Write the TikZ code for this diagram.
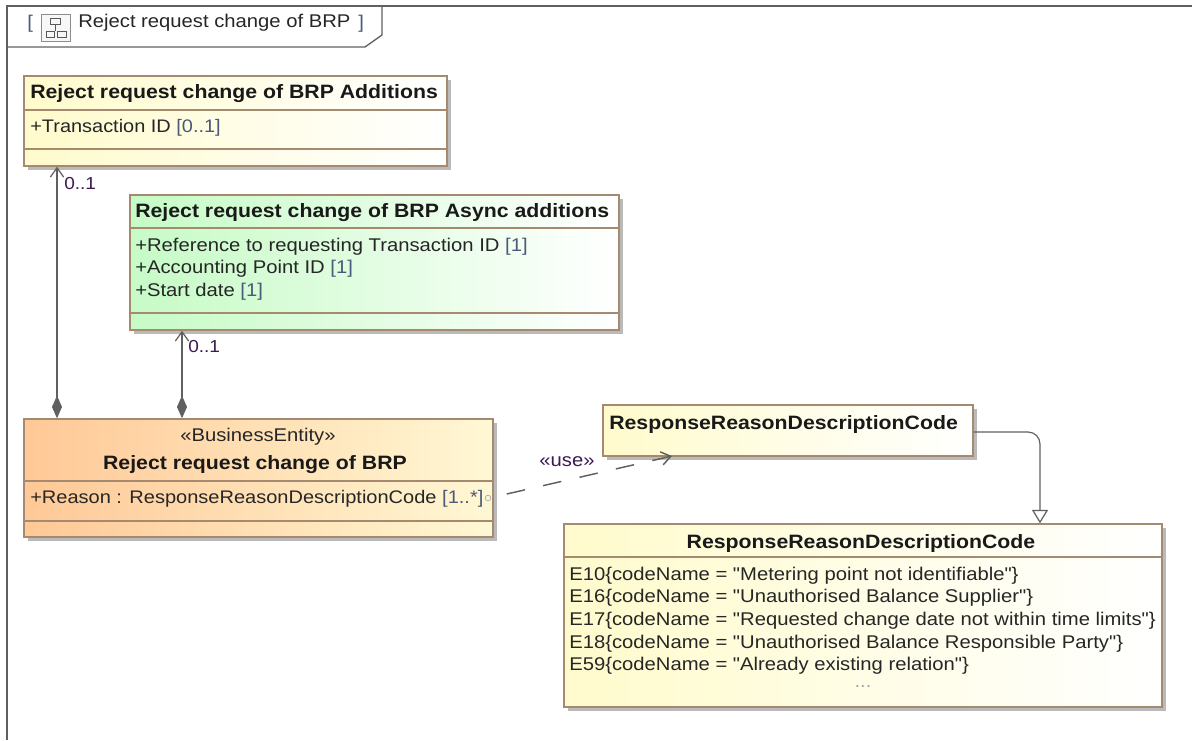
\documentclass[tikz,border=0pt]{standalone}
\usepackage{fontspec}
\setmainfont[FakeStretch=1.1,Ligatures=TeXOff]{Liberation Sans}
\usetikzlibrary{arrows.meta,shadows,fit}
\definecolor{boxline}{HTML}{A58A70}
\definecolor{frameline}{HTML}{606060}
\definecolor{mult}{HTML}{4A5A78}
\definecolor{mark}{HTML}{3A1A50}
\definecolor{orangeleft}{HTML}{FFC896}
\definecolor{orangeright}{HTML}{FFF8D4}
\definecolor{greenleft}{HTML}{C6FBC6}
\definecolor{yellowleft}{HTML}{FFFBCC}
\tikzset{
	classbox/.style 2 args={draw=boxline,line width=1.1pt,left color=#1,right color=#2,inner sep=0pt,
		drop shadow={shadow xshift=3pt,shadow yshift=-3pt,fill=black!45,opacity=.6}},
	divider/.style={draw=boxline,line width=1.1pt},
	title/.style={font=\bfseries\fontsize{14.5}{16}\selectfont,text=black!90,inner sep=0pt,yshift=-1.5pt},
	row/.style={font=\fontsize{13.8}{15}\selectfont,text=black!85,anchor=west,inner sep=0pt,yshift=-1.5pt},
	linkline/.style={draw=frameline,line width=0.9pt}
}
\newcommand{\mlt}[1]{\textcolor{mult}{#1}}
\begin{document}
\begin{tikzpicture}[x=0.75pt,y=-0.75pt]
	\useasboundingbox (0,0) rectangle (1192,740);
	% frame and tab
	\draw[frameline,line width=1pt] (7,740) -- (7,6) -- (1192,6);
	\draw[frameline,line width=1pt] (7,47) -- (365,47) -- (382,35) -- (382,6);
	\node (open) [row,text=mult] at (27,22) {[};
	\node (icon) [draw=black!45,fill=black!3,line width=.7pt,fit={(41,14) (70,41)},inner sep=0pt] {};
	\draw[black!65,line width=.6pt] (50,18) rectangle (60,24) (46,31) rectangle (54,37) (57,31) rectangle (66,37)
		(55,24) -- (55,31);
	\node (diagram) [row] at (78,21) {Reject request change of BRP};
	\node (close) [row,text=mult] at (358,22) {]};

	% classes
	\node (additions) [classbox={yellowleft}{white},fit={(24,76) (447,166)}] {};
	\draw[divider] (additions.west |- 0,110) -- (additions.east |- 0,110);
	\draw[divider] (additions.west |- 0,149) -- (additions.east |- 0,149);
	\node (additionsT) [title,anchor=west] at (30,92) {Reject request change of BRP Additions};
	\node (additionsA) [row,font=\fontsize{13.6}{15}\selectfont] at (30,126) {+Transaction ID \mlt{[0..1]}};

	\node (async) [classbox={greenleft}{white},fit={(130,195) (619,330)}] {};
	\draw[divider] (async.west |- 0,228) -- (async.east |- 0,228);
	\draw[divider] (async.west |- 0,313) -- (async.east |- 0,313);
	\node (asyncT) [title,anchor=west] at (135,211) {Reject request change of BRP Async additions};
	\node (asyncA) [row] at (135,245) {+Reference to requesting Transaction ID \mlt{[1]}};
	\node (asyncB) [row] at (135,267) {+Accounting Point ID \mlt{[1]}};
	\node (asyncC) [row] at (135,290) {+Start date \mlt{[1]}};

	\node (entity) [classbox={orangeleft}{orangeright},fit={(24,419) (493,537)}] {};
	\draw[divider] (entity.west |- 0,481) -- (entity.east |- 0,481);
	\draw[divider] (entity.west |- 0,521) -- (entity.east |- 0,521);
	\node (entityS) [row,anchor=center] at (258,435) {«BusinessEntity»};
	\node (entityT) [title,anchor=center] at (255,463) {Reject request change of BRP};
	\node (entityA) [row,font=\fontsize{13.65}{15}\selectfont] at (30,497) {+Reason : ResponseReasonDescriptionCode \mlt{[1..*]}};
	\node (port) [circle,draw=black!35,line width=.5pt,inner sep=1.5pt] at (488,498) {};

	\node (code) [classbox={yellowleft}{white},fit={(603,405) (973,456)}] {};
	\node (codeT) [title,anchor=west] at (609,422) {ResponseReasonDescriptionCode};

	\node (enum) [classbox={yellowleft}{white},fit={(564,524) (1162,707)}] {};
	\draw[divider] (enum.west |- 0,557) -- (enum.east |- 0,557);
	\node (enumT) [title,anchor=center] at (861,541) {ResponseReasonDescriptionCode};
	\node (enumA) [row] at (569,574) {E10\{codeName = "Metering point not identifiable"\}};
	\node (enumB) [row] at (569,596) {E16\{codeName = "Unauthorised Balance Supplier"\}};
	\node (enumC) [row] at (569,619) {E17\{codeName = "Requested change date not within time limits"\}};
	\node (enumD) [row] at (569,642) {E18\{codeName = "Unauthorised Balance Responsible Party"\}};
	\node (enumE) [row] at (569,664) {E59\{codeName = "Already existing relation"\}};
	\node (enumF) [row,anchor=center,text=black!35] at (863,685) {...};

	% connectors
	\coordinate (linkA) at (57,300);
	\coordinate (linkB) at (182,300);
	\coordinate (linkC) at (1040,480);
	\draw[linkline,{Diamond[length=17pt,width=7.5pt,fill=frameline]}-{Straight Barb[length=7pt,width=10pt]}]
		(linkA |- entity.north) -- (linkA |- additions.south);
	\draw[linkline,{Diamond[length=17pt,width=7.5pt,fill=frameline]}-{Straight Barb[length=7pt,width=10pt]}]
		(linkB |- entity.north) -- (linkB |- async.south);
	\node (multA) [row,text=mark,font=\fontsize{13}{15}\selectfont] at (64,182) {0..1};
	\node (multB) [row,text=mark,font=\fontsize{13}{15}\selectfont] at (188,345) {0..1};
	\draw[linkline,rounded corners=9pt,-{Triangle[open,length=10pt,width=12pt,fill=white]}]
		(code.east |- 0,432) -| (linkC |- enum.north);
	\draw[linkline,line width=1.1pt,dash pattern=on 14pt off 14pt,dash phase=18pt,-{Straight Barb[length=7pt,width=10pt]}]
		(entity.east |- 0,497) -- (672,456);
	\node (use) [row,anchor=center,text=mark] at (567,460) {«use»};
\end{tikzpicture}
\end{document}
